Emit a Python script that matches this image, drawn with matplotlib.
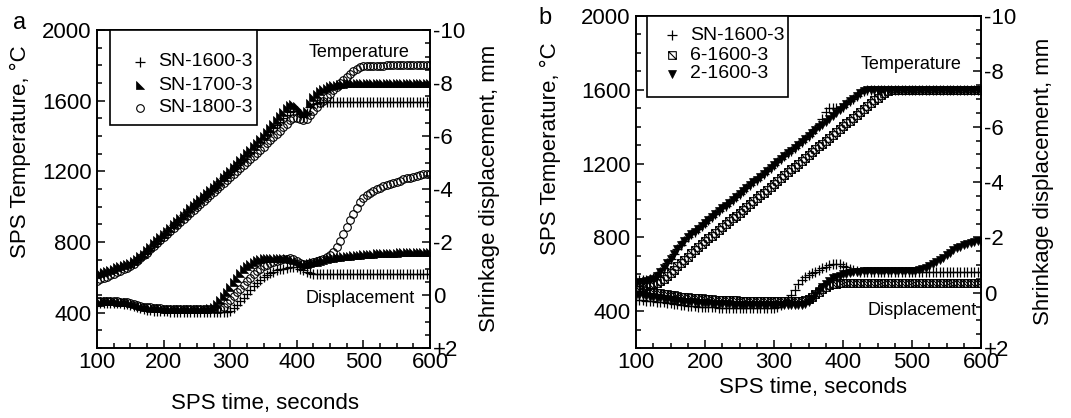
import numpy as np
import matplotlib
matplotlib.use("Agg")
import matplotlib.pyplot as plt
from matplotlib.path import Path
from matplotlib.lines import Line2D
from matplotlib.patches import Rectangle
from matplotlib.ticker import MultipleLocator, FixedLocator, FixedFormatter

plt.rcParams["font.family"] = ["Liberation Sans", "DejaVu Sans"]

# sampling times (s), one reading every 5 s
time_s = np.arange(100, 601, 5)

# ---- panel a: temperature (degC) ----
a_temp_1600 = [
    612, 618, 624, 630, 638, 645, 650, 656, 662, 670,
    678, 688, 700, 714, 730, 748, 768, 788, 806, 824,
    842, 860, 878, 896, 914, 932, 950, 968, 986, 1004,
    1022, 1040, 1057, 1074, 1091, 1108, 1125, 1143, 1161, 1179,
    1197, 1215, 1234, 1253, 1272, 1291, 1310, 1329, 1348, 1367,
    1386, 1405, 1424, 1443, 1462, 1481, 1500, 1518, 1534, 1544,
    1540, 1522, 1508, 1530, 1562, 1580, 1588, 1590, 1590, 1590,
    1590, 1590, 1590, 1590, 1590, 1590, 1590, 1590, 1590, 1590,
    1590, 1590, 1590, 1590, 1590, 1590, 1590, 1590, 1590, 1590,
    1590, 1590, 1590, 1590, 1590, 1590, 1590, 1590, 1590, 1590,
    1590]
a_temp_1700 = [
    620, 624, 630, 636, 642, 650, 656, 662, 668, 674,
    682, 692, 704, 718, 734, 752, 772, 792, 810, 828,
    846, 864, 882, 900, 918, 936, 954, 972, 990, 1008,
    1026, 1043, 1060, 1078, 1095, 1112, 1130, 1148, 1166, 1184,
    1202, 1222, 1242, 1262, 1282, 1302, 1322, 1342, 1362, 1382,
    1402, 1424, 1446, 1468, 1490, 1512, 1534, 1556, 1574, 1582,
    1572, 1548, 1528, 1540, 1588, 1620, 1640, 1654, 1665, 1674,
    1681, 1687, 1691, 1694, 1697, 1698, 1699, 1700, 1700, 1700,
    1700, 1700, 1700, 1700, 1700, 1700, 1700, 1700, 1700, 1700,
    1700, 1700, 1700, 1700, 1700, 1700, 1700, 1700, 1700, 1700,
    1700]
a_temp_1800 = [
    580, 588, 596, 604, 612, 620, 628, 636, 645, 655,
    666, 678, 692, 708, 724, 740, 758, 776, 794, 812,
    830, 847, 864, 881, 898, 915, 932, 949, 966, 983,
    1000, 1017, 1034, 1051, 1068, 1085, 1102, 1119, 1136, 1153,
    1170, 1187, 1204, 1221, 1238, 1255, 1272, 1289, 1306, 1323,
    1340, 1358, 1376, 1394, 1412, 1430, 1450, 1470, 1488, 1500,
    1504, 1498, 1488, 1496, 1520, 1544, 1566, 1584, 1600, 1620,
    1640, 1660, 1680, 1700, 1718, 1736, 1752, 1766, 1778, 1788,
    1794, 1796, 1797, 1798, 1798, 1799, 1799, 1800, 1800, 1800,
    1800, 1800, 1800, 1800, 1800, 1800, 1800, 1800, 1800, 1800,
    1800]

# ---- panel a: shrinkage displacement (mm) ----
a_disp_1600 = [
    0.30, 0.30, 0.30, 0.30, 0.30, 0.31, 0.31, 0.32, 0.33, 0.35,
    0.38, 0.42, 0.46, 0.50, 0.53, 0.56, 0.58, 0.59, 0.60, 0.61,
    0.62, 0.62, 0.63, 0.63, 0.63, 0.63, 0.64, 0.64, 0.64, 0.64,
    0.64, 0.64, 0.64, 0.65, 0.65, 0.65, 0.65, 0.65, 0.64, 0.63,
    0.60, 0.50, 0.38, 0.24, 0.10, -0.05, -0.20, -0.34, -0.47, -0.58,
    -0.67, -0.75, -0.82, -0.88, -0.93, -0.97, -1.00, -1.03, -1.05, -1.06,
    -1.05, -1.00, -0.93, -0.87, -0.83, -0.81, -0.80, -0.80, -0.80, -0.80,
    -0.80, -0.80, -0.80, -0.80, -0.80, -0.80, -0.80, -0.80, -0.80, -0.80,
    -0.80, -0.80, -0.80, -0.80, -0.80, -0.80, -0.80, -0.80, -0.80, -0.80,
    -0.80, -0.80, -0.80, -0.80, -0.80, -0.80, -0.80, -0.80, -0.80, -0.80,
    -0.80]
a_disp_1700 = [
    0.25, 0.25, 0.24, 0.24, 0.24, 0.24, 0.25, 0.25, 0.26, 0.28,
    0.31, 0.35, 0.39, 0.42, 0.45, 0.47, 0.48, 0.49, 0.50, 0.50,
    0.51, 0.52, 0.52, 0.52, 0.52, 0.52, 0.52, 0.52, 0.52, 0.52,
    0.52, 0.52, 0.52, 0.52, 0.50, 0.44, 0.34, 0.20, 0.05, -0.12,
    -0.30, -0.48, -0.66, -0.83, -0.97, -1.08, -1.18, -1.26, -1.31, -1.35,
    -1.38, -1.40, -1.41, -1.41, -1.41, -1.41, -1.40, -1.39, -1.37, -1.33,
    -1.27, -1.20, -1.16, -1.17, -1.20, -1.23, -1.26, -1.29, -1.32, -1.35,
    -1.38, -1.40, -1.42, -1.44, -1.46, -1.47, -1.48, -1.50, -1.51, -1.52,
    -1.53, -1.54, -1.55, -1.56, -1.57, -1.57, -1.58, -1.59, -1.59, -1.60,
    -1.60, -1.61, -1.61, -1.62, -1.62, -1.63, -1.63, -1.63, -1.64, -1.64,
    -1.64]
a_disp_1800 = [
    0.22, 0.22, 0.22, 0.22, 0.23, 0.23, 0.24, 0.25, 0.26, 0.28,
    0.31, 0.34, 0.38, 0.41, 0.44, 0.46, 0.47, 0.48, 0.49, 0.50,
    0.51, 0.51, 0.52, 0.52, 0.52, 0.52, 0.52, 0.52, 0.52, 0.52,
    0.52, 0.52, 0.52, 0.52, 0.52, 0.52, 0.52, 0.52, 0.45, 0.32,
    0.18, 0.04, -0.10, -0.24, -0.38, -0.52, -0.66, -0.78, -0.90, -1.00,
    -1.08, -1.15, -1.20, -1.25, -1.29, -1.32, -1.35, -1.37, -1.38, -1.36,
    -1.30, -1.22, -1.18, -1.18, -1.20, -1.23, -1.27, -1.31, -1.36, -1.42,
    -1.50, -1.62, -1.80, -2.05, -2.32, -2.58, -2.83, -3.07, -3.30, -3.50,
    -3.66, -3.77, -3.86, -3.93, -3.99, -4.05, -4.10, -4.15, -4.20, -4.24,
    -4.28, -4.32, -4.36, -4.40, -4.43, -4.46, -4.49, -4.52, -4.55, -4.57,
    -4.58]

# ---- panel b: temperature (degC) ----
b_temp_sn = [
    565, 566, 568, 570, 573, 578, 590, 610, 634, 660,
    685, 710, 735, 758, 780, 800, 816, 831, 847, 863,
    878, 894, 910, 925, 941, 957, 972, 988, 1004, 1019,
    1035, 1051, 1066, 1082, 1098, 1113, 1129, 1145, 1160, 1176,
    1192, 1208, 1223, 1239, 1255, 1270, 1286, 1302, 1317, 1333,
    1349, 1364, 1385, 1410, 1440, 1480, 1500, 1502, 1500, 1500,
    1507, 1522, 1537, 1552, 1568, 1582, 1593, 1598, 1600, 1600,
    1600, 1600, 1600, 1600, 1600, 1600, 1600, 1600, 1600, 1600,
    1600, 1600, 1600, 1600, 1600, 1600, 1600, 1600, 1600, 1600,
    1600, 1600, 1600, 1600, 1600, 1600, 1600, 1600, 1600, 1600,
    1600]
b_temp_6 = [
    530, 531, 533, 536, 540, 545, 552, 562, 575, 590,
    606, 624, 642, 660, 678, 696, 713, 730, 746, 762,
    778, 794, 809, 825, 840, 856, 872, 887, 903, 918,
    934, 950, 965, 981, 996, 1012, 1028, 1043, 1059, 1074,
    1090, 1106, 1121, 1137, 1152, 1168, 1184, 1199, 1215, 1230,
    1246, 1262, 1277, 1293, 1308, 1324, 1340, 1355, 1371, 1386,
    1402, 1418, 1433, 1449, 1464, 1480, 1496, 1511, 1527, 1542,
    1558, 1572, 1584, 1592, 1597, 1600, 1600, 1600, 1600, 1600,
    1600, 1600, 1600, 1600, 1600, 1600, 1600, 1600, 1600, 1600,
    1600, 1600, 1600, 1600, 1600, 1600, 1600, 1600, 1600, 1600,
    1600]
b_temp_2 = [
    555, 557, 560, 563, 567, 574, 588, 610, 635, 660,
    685, 710, 735, 758, 780, 800, 816, 831, 847, 863,
    878, 894, 910, 925, 941, 957, 972, 988, 1004, 1019,
    1035, 1051, 1066, 1082, 1098, 1113, 1129, 1145, 1160, 1176,
    1192, 1208, 1223, 1239, 1255, 1270, 1286, 1302, 1317, 1333,
    1349, 1364, 1380, 1396, 1411, 1427, 1443, 1458, 1474, 1490,
    1505, 1521, 1537, 1552, 1568, 1582, 1593, 1598, 1600, 1600,
    1600, 1600, 1600, 1600, 1600, 1600, 1600, 1600, 1600, 1600,
    1600, 1600, 1600, 1600, 1600, 1600, 1600, 1600, 1600, 1600,
    1600, 1600, 1600, 1600, 1600, 1600, 1600, 1600, 1600, 1600,
    1600]

# ---- panel b: shrinkage displacement (mm) ----
b_disp_sn = [
    0.26, 0.27, 0.28, 0.29, 0.30, 0.31, 0.32, 0.33, 0.34, 0.36,
    0.38, 0.40, 0.42, 0.44, 0.46, 0.47, 0.48, 0.49, 0.50, 0.51,
    0.52, 0.52, 0.53, 0.53, 0.54, 0.54, 0.54, 0.55, 0.55, 0.55,
    0.55, 0.55, 0.55, 0.55, 0.55, 0.55, 0.55, 0.55, 0.55, 0.55,
    0.55, 0.52, 0.45, 0.36, 0.26, 0.10, -0.10, -0.30, -0.45, -0.55,
    -0.63, -0.70, -0.76, -0.82, -0.88, -0.94, -0.99, -1.02, -1.03, -1.02,
    -0.98, -0.92, -0.86, -0.81, -0.78, -0.76, -0.75, -0.75, -0.75, -0.75,
    -0.75, -0.75, -0.75, -0.75, -0.75, -0.75, -0.75, -0.75, -0.75, -0.75,
    -0.75, -0.75, -0.75, -0.75, -0.75, -0.75, -0.75, -0.75, -0.75, -0.75,
    -0.75, -0.75, -0.75, -0.75, -0.75, -0.75, -0.75, -0.75, -0.75, -0.75,
    -0.75]
b_disp_6 = [
    -0.10, -0.09, -0.08, -0.06, -0.04, -0.02, 0.00, 0.02, 0.04, 0.06,
    0.08, 0.10, 0.12, 0.14, 0.16, 0.17, 0.18, 0.19, 0.20, 0.21,
    0.22, 0.23, 0.24, 0.25, 0.26, 0.26, 0.27, 0.27, 0.28, 0.28,
    0.29, 0.29, 0.30, 0.30, 0.30, 0.30, 0.30, 0.30, 0.30, 0.30,
    0.30, 0.30, 0.30, 0.30, 0.30, 0.30, 0.30, 0.30, 0.30, 0.28,
    0.24, 0.16, 0.06, -0.04, -0.13, -0.20, -0.26, -0.30, -0.33, -0.35,
    -0.36, -0.36, -0.36, -0.36, -0.36, -0.36, -0.36, -0.36, -0.36, -0.36,
    -0.36, -0.36, -0.36, -0.36, -0.36, -0.36, -0.36, -0.36, -0.36, -0.36,
    -0.36, -0.36, -0.36, -0.36, -0.36, -0.36, -0.36, -0.36, -0.36, -0.36,
    -0.36, -0.36, -0.36, -0.36, -0.36, -0.36, -0.36, -0.36, -0.36, -0.36,
    -0.36]
b_disp_2 = [
    0.08, 0.09, 0.10, 0.12, 0.14, 0.16, 0.18, 0.20, 0.22, 0.24,
    0.26, 0.28, 0.30, 0.31, 0.32, 0.33, 0.34, 0.35, 0.36, 0.37,
    0.38, 0.39, 0.40, 0.40, 0.41, 0.41, 0.42, 0.42, 0.43, 0.43,
    0.44, 0.44, 0.44, 0.45, 0.45, 0.45, 0.45, 0.45, 0.45, 0.45,
    0.45, 0.45, 0.45, 0.45, 0.45, 0.45, 0.45, 0.45, 0.44, 0.41,
    0.35, 0.22, 0.08, -0.06, -0.20, -0.32, -0.43, -0.52, -0.58, -0.62,
    -0.66, -0.69, -0.72, -0.74, -0.75, -0.76, -0.77, -0.77, -0.78, -0.78,
    -0.78, -0.78, -0.78, -0.78, -0.78, -0.78, -0.78, -0.78, -0.78, -0.78,
    -0.78, -0.79, -0.81, -0.84, -0.89, -0.95, -1.02, -1.10, -1.18, -1.27,
    -1.36, -1.45, -1.53, -1.60, -1.66, -1.72, -1.77, -1.81, -1.84, -1.86,
    -1.87]

labels_a = ["SN-1600-3", "SN-1700-3", "SN-1800-3"]
labels_b = ["SN-1600-3", "6-1600-3", "2-1600-3"]
temp_ticks = [400, 800, 1200, 1600, 2000]
disp_ticks = [-10, -8, -6, -4, -2, 0, 2]
disp_ticklabels = ["-10", "-8", "-6", "-4", "-2", "0", "+2"]

# custom symbols
TRI_LL = Path([(-1, 1), (-1, -1), (1, -1), (-1, 1)],
              [Path.MOVETO, Path.LINETO, Path.LINETO, Path.CLOSEPOLY])
SQ_SLASH = Path([(-1, -1), (1, -1), (1, 1), (-1, 1), (-1, -1), (-1, 1), (1, -1)],
                [Path.MOVETO, Path.LINETO, Path.LINETO, Path.LINETO,
                 Path.CLOSEPOLY, Path.MOVETO, Path.LINETO])

PLUS = dict(marker="+", ms=7, mew=0.9, color="black", ls="none")
TRI = dict(marker=TRI_LL, ms=6, mew=0.5, color="black", ls="none")
CIRC = dict(marker="o", ms=5.5, mew=0.8, mfc="none", color="black", ls="none")
SQ = dict(marker=SQ_SLASH, ms=5.5, mew=0.8, mfc="none", color="black", ls="none")
VTRI = dict(marker="v", ms=6, mew=0.5, color="black", ls="none")

FS = 16


def fx(px):
    return px / 1071


def fy(py):
    return 1 - py / 418


def style(ax, ax2):
    ax.set_xlim(100, 600)
    ax.set_ylim(200, 2000)
    ax2.set_ylim(2, -10)
    ax.xaxis.set_major_locator(MultipleLocator(100))
    ax.xaxis.set_minor_locator(MultipleLocator(25))
    ax.yaxis.set_major_locator(FixedLocator(temp_ticks))
    ax.yaxis.set_minor_locator(MultipleLocator(100))
    ax2.yaxis.set_major_locator(FixedLocator(disp_ticks))
    ax2.yaxis.set_major_formatter(FixedFormatter(disp_ticklabels))
    ax2.yaxis.set_minor_locator(MultipleLocator(0.5))
    for a in (ax, ax2):
        a.tick_params(which="both", direction="in", width=1.1, labelsize=FS)
        a.tick_params(which="major", length=6)
        a.tick_params(which="minor", length=3.5)
        for s in a.spines.values():
            s.set_linewidth(1.2)
    ax.tick_params(axis="y", pad=4)
    ax.tick_params(axis="x", pad=3)
    ax2.tick_params(axis="y", pad=2)


def legend_box(box, marker_x, text_x, rows, styles, labels):
    # box = (left, top, right, bottom) in pixels from top-left
    l, t, r, b = box
    fig.add_artist(Rectangle((fx(l), fy(b)), fx(r - l), (b - t) / 418,
                             transform=fig.transFigure, fc="white", ec="black",
                             lw=1.2, zorder=5))
    for y, st, lab in zip(rows, styles, labels):
        fig.add_artist(Line2D([fx(marker_x)], [fy(y)], transform=fig.transFigure,
                              zorder=6, **st))
        fig.text(fx(text_x), fy(y), lab, fontsize=14, ha="left", va="center",
                 zorder=6)


fig = plt.figure(figsize=(10.71, 4.18), dpi=100)

# ---------------- panel a ----------------
ax = fig.add_axes([fx(97), fy(348), fx(430 - 97), (348 - 30) / 418])
ax2 = ax.twinx()
ax.plot(time_s, a_temp_1600, **PLUS)
ax.plot(time_s, a_temp_1800, **CIRC)
ax.plot(time_s, a_temp_1700, **TRI)
ax2.plot(time_s, a_disp_1600, **PLUS)
ax2.plot(time_s, a_disp_1800, **CIRC)
ax2.plot(time_s, a_disp_1700, **TRI)
style(ax, ax2)
ax.text(493, 1875, "Temperature", ha="center", va="center", fontsize=13)
ax.text(495, 483, "Displacement", ha="center", va="center", fontsize=13)
legend_box((110, 30, 257, 125), 140, 158, [62, 85, 108], [PLUS, TRI, CIRC], labels_a)

fig.text(fx(20), fy(23), "a", fontsize=17, ha="center", va="center")
fig.text(fx(20), fy(152), "SPS Temperature, °C", rotation=90, fontsize=FS,
         ha="center", va="center")
fig.text(fx(490), fy(188), "Shrinkage displacement, mm", rotation=90, fontsize=FS,
         ha="center", va="center")
fig.text(fx(265), fy(403), "SPS time, seconds", fontsize=FS, ha="center", va="center")

# ---------------- panel b ----------------
bx = fig.add_axes([fx(636), fy(348), fx(981 - 636), (348 - 16) / 418])
bx2 = bx.twinx()
bx.plot(time_s, b_temp_sn, **PLUS)
bx.plot(time_s, b_temp_6, **SQ)
bx.plot(time_s, b_temp_2, **VTRI)
bx2.plot(time_s, b_disp_sn, **PLUS)
bx2.plot(time_s, b_disp_6, **SQ)
bx2.plot(time_s, b_disp_2, **VTRI)
style(bx, bx2)
bx.text(498, 1735, "Temperature", ha="center", va="center", fontsize=13)
bx.text(514, 406, "Displacement", ha="center", va="center", fontsize=13)
legend_box((647, 16, 788, 97), 672, 690, [35, 55, 74], [PLUS, SQ, VTRI], labels_b)

fig.text(fx(545), fy(18), "b", fontsize=17, ha="center", va="center")
fig.text(fx(550), fy(149), "SPS Temperature, °C", rotation=90, fontsize=FS,
         ha="center", va="center")
fig.text(fx(1043), fy(181), "Shrinkage displacement, mm", rotation=90, fontsize=FS,
         ha="center", va="center")
fig.text(fx(813), fy(387), "SPS time, seconds", fontsize=FS, ha="center", va="center")

fig.savefig("out.png", dpi=100)
